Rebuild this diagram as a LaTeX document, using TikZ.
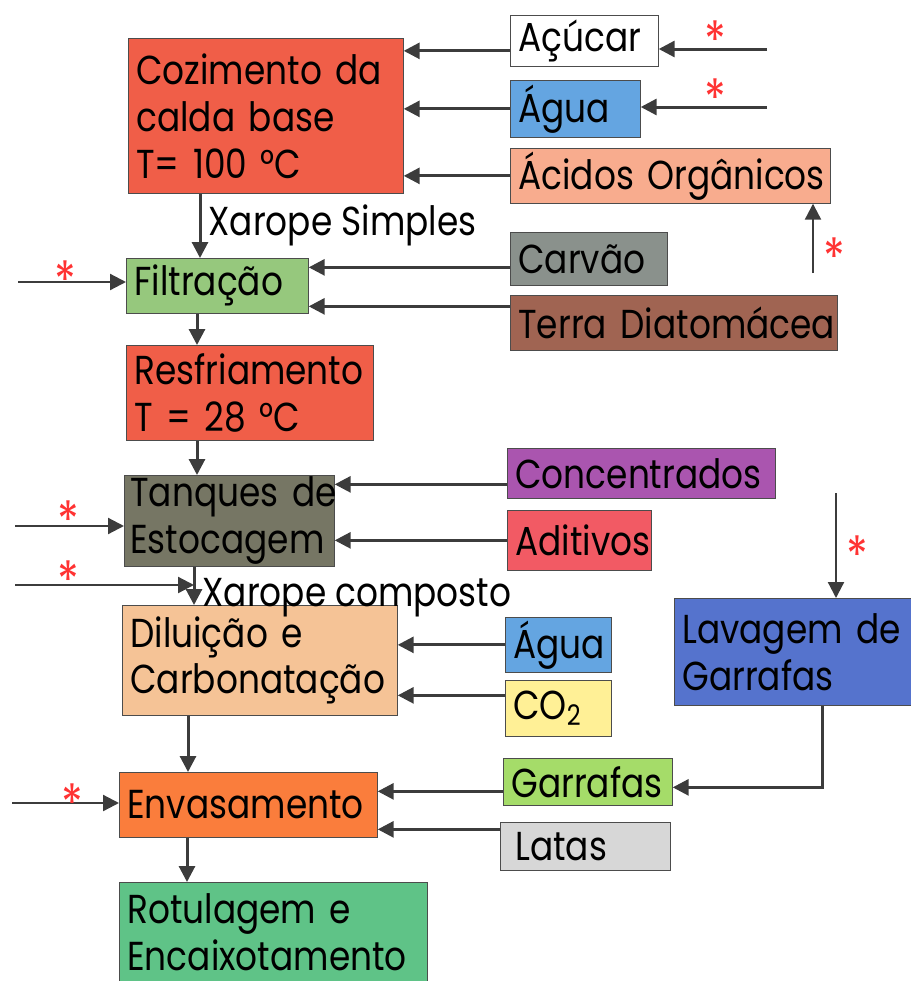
\documentclass[tikz,border=0pt]{standalone}
\usepackage{fontspec}
\setmainfont{Poppins}[FakeStretch=0.85]
\usetikzlibrary{arrows.meta, positioning, calc}

\definecolor{cozred}{RGB}{240,94,72}
\definecolor{aguablue}{RGB}{100,165,225}
\definecolor{acidsalmon}{RGB}{248,172,142}
\definecolor{coalgrey}{RGB}{138,145,140}
\definecolor{earthbrown}{RGB}{160,100,82}
\definecolor{filtgreen}{RGB}{150,200,125}
\definecolor{concpurple}{RGB}{170,85,175}
\definecolor{addred}{RGB}{242,90,100}
\definecolor{tankolive}{RGB}{118,118,100}
\definecolor{washblue}{RGB}{85,115,205}
\definecolor{dilpeach}{RGB}{245,195,150}
\definecolor{coyellow}{RGB}{255,240,150}
\definecolor{bottlegreen}{RGB}{165,220,105}
\definecolor{cangrey}{RGB}{215,215,215}
\definecolor{fillorange}{RGB}{250,125,60}
\definecolor{labelgreen}{RGB}{95,195,135}
\definecolor{arrowgrey}{RGB}{60,60,60}

\newcommand{\boxfont}{\fontsize{23}{26.7}\selectfont\hyphenpenalty=10000\exhyphenpenalty=10000}
\newcommand{\starfont}{\fontsize{30}{30}\selectfont}

\begin{document}
\begin{tikzpicture}[
    x=0.2mm, y=-0.2mm,
    stepbox/.style={draw=black!70, thin, anchor=north west, align=left, inner xsep=1.6mm, inner ysep=0pt, font=\boxfont},
    flow/.style={draw=arrowgrey, line width=0.6mm, -{Triangle[length=3.2mm, width=3.2mm]}},
    feed/.style={flow, line width=0.45mm},
    star/.style={text=red!80, font=\starfont, inner sep=0pt, anchor=north},
    flowlabel/.style={font=\boxfont, inner sep=0pt}
]
    \useasboundingbox (0,0) rectangle (910,981);

    % Main process column
    \node[stepbox, fill=cozred, text width=51.8mm, minimum height=31mm] (cozimento) at (128,38)
        {Cozimento~da\\calda~base\\T=~100~°C};
    \node[stepbox, fill=filtgreen, text width=33.2mm, minimum height=11mm] (filtracao) at (126,258) {Filtração};
    \node[stepbox, fill=cozred, text width=46.2mm, minimum height=19mm] (resfriamento) at (126,345)
        {Resfriamento\\T~=~28~°C};
    \node[stepbox, fill=tankolive, text width=39.6mm, minimum height=18.2mm, inner xsep=1.2mm] (tanques) at (124,475)
        {Tanques~de\\Estocagem};
    \node[stepbox, fill=dilpeach, text width=51.8mm, minimum height=22mm] (diluicao) at (122,605)
        {Diluição~e\\Carbonatação};
    \node[stepbox, fill=fillorange, text width=48.4mm, minimum height=13mm] (envasamento) at (119,772) {Envasamento};
    \node[stepbox, fill=labelgreen, text width=58.4mm, minimum height=19.8mm] (rotulagem) at (119,882)
        {Rotulagem~e\\Encaixotamento};

    % Inputs on the right
    \node[stepbox, fill=white, text width=26.4mm, minimum height=10.2mm] (acucar) at (510,15) {Açúcar};
    \node[stepbox, fill=aguablue, text width=22.8mm, minimum height=11.4mm] (agua) at (510,80) {Água};
    \node[stepbox, fill=acidsalmon, text width=60.8mm, minimum height=11mm] (acidos) at (510,148) {Ácidos~Orgânicos};
    \node[stepbox, fill=coalgrey, text width=28.2mm, minimum height=10.6mm] (carvao) at (510,232) {Carvão};
    \node[stepbox, fill=earthbrown, text width=62.2mm, minimum height=11mm] (terra) at (510,295) {Terra~Diatomácea};
    \node[stepbox, fill=concpurple, text width=50.4mm, minimum height=10mm] (concentrados) at (507,448) {Concentrados};
    \node[stepbox, fill=addred, text width=25.6mm, minimum height=12mm] (aditivos) at (507,510) {Aditivos};
    \node[stepbox, fill=aguablue, text width=18mm, minimum height=11mm] (aguadil) at (505,617) {Água};
    \node[stepbox, fill=coyellow, text width=18mm, minimum height=11.2mm] (co2) at (505,680) {CO\textsubscript{2}};
    \node[stepbox, fill=washblue, text width=45.6mm, minimum height=21.4mm] (lavagem) at (674,598)
        {Lavagem~de\\Garrafas};
    \node[stepbox, fill=bottlegreen, text width=30.6mm, minimum height=9.4mm] (garrafas) at (503,758) {Garrafas};
    \node[stepbox, fill=cangrey, text width=30.8mm, minimum height=9.6mm] (latas) at (500,822) {\hspace*{1.4mm}Latas};

    % Free ends of the outside feeds
    \coordinate (inacucar) at (767,49);
    \coordinate (inagua) at (767,107);
    \coordinate (inacidos) at (813,273);
    \coordinate (infiltr) at (18,282);
    \coordinate (intanques) at (15,526);
    \coordinate (inxarope) at (15,585);
    \coordinate (inlavagem) at (836,493);
    \coordinate (inenvas) at (12,803);

    % Main column flow
    \draw[flow] ([xshift=14.4mm]cozimento.south west) coordinate (s1) --
        node[flowlabel, right=1.4mm] (xsimples) {Xarope~Simples} (s1 |- filtracao.north);
    \draw[flow] ([xshift=14.2mm]filtracao.south west) coordinate (s2) -- (s2 |- resfriamento.north);
    \draw[flow] ([xshift=14.2mm]resfriamento.south west) coordinate (s3) -- (s3 |- tanques.north);
    \draw[flow] ([xshift=14mm]tanques.south west) coordinate (s4) --
        node[flowlabel, right=1.4mm, pos=0.8] (xcomposto) {Xarope~composto} (s4 |- diluicao.north);
    \draw[flow] ([xshift=13.2mm]diluicao.south west) coordinate (s5) -- (s5 |- envasamento.north);
    \draw[flow] ([xshift=13.6mm]envasamento.south west) coordinate (s6) -- (s6 |- rotulagem.north);

    % Side inputs
    \draw[flow] ([yshift=-2mm]acucar.west) -- ([yshift=-2mm]acucar.west -| cozimento.east);
    \draw[flow] (agua.west) -- (agua.west -| cozimento.east);
    \draw[flow] (acidos.west) -- (acidos.west -| cozimento.east);
    \draw[flow] ([yshift=-1.7mm]carvao.west) -- ([yshift=-1.7mm]carvao.west -| filtracao.east);
    \draw[flow] ([yshift=3.3mm]terra.west) -- ([yshift=3.3mm]terra.west -| filtracao.east);
    \draw[flow] ([yshift=-2.2mm]concentrados.west) -- ([yshift=-2.2mm]concentrados.west -| tanques.east);
    \draw[flow] (aditivos.west) -- (aditivos.west -| tanques.east);
    \draw[flow] (aguadil.west) -- (aguadil.west -| diluicao.east);
    \draw[flow] ([yshift=2.6mm]co2.west) -- ([yshift=2.6mm]co2.west -| diluicao.east);
    \draw[flow] ([yshift=-1.9mm]garrafas.west) -- ([yshift=-1.9mm]garrafas.west -| envasamento.east);
    \draw[flow] ([yshift=3.4mm]latas.west) -- ([yshift=3.4mm]latas.west -| envasamento.east);
    \draw[flow] ([xshift=5.2mm]lavagem.south) |- ([yshift=-1.1mm]garrafas.east);

    % Outside feeds
    \draw[flow] (inacucar) -- (inacucar -| acucar.east);
    \draw[flow] (inagua) -- (inagua -| agua.east);
    \draw[feed] (inacidos) -- (inacidos |- acidos.south);
    \draw[feed] (infiltr) -- (infiltr -| filtracao.west);
    \draw[feed] (intanques) -- (intanques -| tanques.west);
    \draw[feed] (inxarope) -- (inxarope -| s4);
    \draw[feed] (inlavagem) -- (inlavagem |- lavagem.north);
    \draw[feed] (inenvas) -- (inenvas -| envasamento.west);

    % Stars
    \foreach \sx/\sy [count=\i] in {715/20, 715/78, 834/237, 65/260, 68/500, 68/560, 857/535, 72/783}
        \node[star] (star\i) at (\sx,\sy) {*};
\end{tikzpicture}
\end{document}
